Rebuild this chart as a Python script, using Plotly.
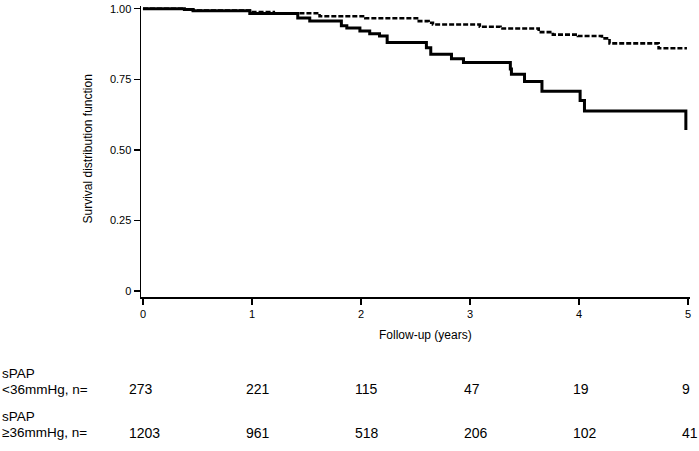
import plotly.graph_objects as go

# Kaplan-Meier step data
solid_t = [0, 0.38, 0.46, 0.98, 1.42, 1.53, 1.82, 1.87, 1.99, 2.08, 2.17, 2.24, 2.60, 2.64, 2.83, 2.94, 3.37, 3.38, 3.50, 3.66, 4.01, 4.05, 4.98]
solid_s = [1.0, 0.997, 0.993, 0.983, 0.967, 0.956, 0.940, 0.932, 0.921, 0.911, 0.903, 0.880, 0.862, 0.839, 0.823, 0.809, 0.786, 0.768, 0.742, 0.708, 0.675, 0.638, 0.570]

dash_t = [0, 0.37, 0.46, 0.98, 1.20, 1.62, 2.04, 2.53, 2.62, 2.66, 3.09, 3.28, 3.63, 3.76, 3.99, 4.21, 4.28, 4.73, 4.99]
dash_s = [1.0, 0.996, 0.993, 0.988, 0.984, 0.973, 0.966, 0.956, 0.950, 0.944, 0.936, 0.930, 0.917, 0.908, 0.903, 0.895, 0.877, 0.860, 0.860]

x_ticks = [0, 1, 2, 3, 4, 5]
y_ticks = [0, 0.25, 0.5, 0.75, 1.0]
y_ticktext = ["0", "0.25", "0.50", "0.75", "1.00"]

risk_low = [273, 221, 115, 47, 19, 9]
risk_high = [1203, 961, 518, 206, 102, 41]
row_labels = [("sPAP", "&lt;36mmHg, n="), ("sPAP", "≥36mmHg, n=")]

FONT = "Arial, Liberation Sans, sans-serif"

fig = go.Figure()
fig.add_trace(go.Scatter(x=dash_t, y=dash_s, mode="lines", line=dict(shape="hv", color="black", width=2.6, dash="5px,2px"),
                         name="sPAP <36mmHg", showlegend=False, hoverinfo="skip"))
fig.add_trace(go.Scatter(x=solid_t, y=solid_s, mode="lines", line=dict(shape="hv", color="black", width=3),
                         name="sPAP ≥36mmHg", showlegend=False, hoverinfo="skip"))

PL, PR, PT, PB = 141, 9, 3, 154
W, H = 699, 451
pw = W - PL - PR
ph = H - PT - PB

def px_x(p):
    return (p - PL) / pw

def px_y(p):
    return (H - PB - p) / ph

ann = []
# axis titles
ann.append(dict(text="Follow-up (years)", xref="paper", yref="paper", x=px_x(425), y=px_y(335),
                showarrow=False, font=dict(size=12, family=FONT, color="black"), xanchor="center", yanchor="middle"))
ann.append(dict(text="Survival distribution function", xref="paper", yref="paper", x=px_x(88), y=px_y(148),
                showarrow=False, textangle=-90, font=dict(size=12, family=FONT, color="black"), xanchor="center", yanchor="middle"))

# risk table
label_rows = [(374, 390), (418, 434)]
for (l1, l2), (py1, py2), vals in zip(row_labels, label_rows, [risk_low, risk_high]):
    ann.append(dict(text=l1, xref="paper", yref="paper", x=px_x(0), y=px_y(py1), showarrow=False,
                    xanchor="left", yanchor="middle", font=dict(size=13.5, family=FONT, color="black")))
    ann.append(dict(text=l2, xref="paper", yref="paper", x=px_x(0), y=px_y(py2), showarrow=False,
                    xanchor="left", yanchor="middle", font=dict(size=13.5, family=FONT, color="black")))
    for i, (xt, v) in enumerate(zip(x_ticks, vals)):
        ann.append(dict(text=str(v), xref="x", yref="paper", x=xt, y=px_y(py2), showarrow=False,
                        xanchor="left", yanchor="middle", xshift=-16 if i == 0 else -8,
                        font=dict(size=14, family=FONT, color="black")))

fig.update_layout(
    width=W, height=H,
    margin=dict(l=PL, r=PR, t=PT, b=PB),
    paper_bgcolor="white", plot_bgcolor="white",
    font=dict(family=FONT, color="black"),
    annotations=ann,
    hovermode=False,
    xaxis=dict(range=[-0.018, 5.018], tickvals=x_ticks, ticks="outside", ticklen=6, tickwidth=1.5,
               tickcolor="black", showline=True, linecolor="black", linewidth=1.5, showgrid=False,
               zeroline=False, ticklabeloverflow="allow", tickfont=dict(size=11, family=FONT, color="black")),
    yaxis=dict(range=[-0.021, 1.0095], tickvals=y_ticks, ticktext=y_ticktext, ticks="outside", ticklen=6,
               tickwidth=1.5, tickcolor="black", showline=True, linecolor="black", linewidth=1.5,
               showgrid=False, zeroline=False, ticklabeloverflow="allow",
               tickfont=dict(size=11, family=FONT, color="black")),
)

fig.write_html("out.html", config={"displayModeBar": False, "staticPlot": True},
               post_script="document.body.style.margin='0px';document.body.style.padding='0px';")
